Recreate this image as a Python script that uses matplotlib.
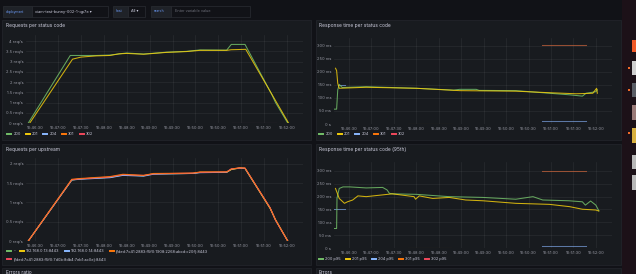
import numpy as np
import matplotlib
matplotlib.use('Agg')
import matplotlib.pyplot as plt
from matplotlib.patches import Rectangle
from matplotlib.lines import Line2D

W, H = 636, 274
nan = np.nan

# x values are seconds after 10:46:00
time_ticks = [30, 60, 90, 120, 150, 180, 210, 240, 270, 300, 330, 360]
time_labels = ['10:46:30', '10:47:00', '10:47:30', '10:48:00', '10:48:30', '10:49:00',
               '10:49:30', '10:50:00', '10:50:30', '10:51:00', '10:51:30', '10:52:00']

status_labels = ['200', '201', '204', '301', '302']
p95_labels = ['200 p95', '201 p95', '204 p95', '301 p95', '302 p95']
upstream_labels = ['-', '192.168.0.13:8443', '192.168.0.14:8443',
                   '[fded:7c41:2883:f5f0:1908:2268:abcd:c20f]:8443',
                   '[fded:7c41:2883:f5f0:7d0b:8db4:7eb1:ac0e]:8443']

# Requests per status code (req/s)
rps_t_200 = [21, 76, 86, 110, 128, 145, 150, 172, 202, 228, 246, 281, 287, 305, 340, 345, 361]
rps_200 = [0, 3.30, 3.30, 3.30, 3.32, 3.40, 3.42, 3.37, 3.46, 3.50, 3.57, 3.56, 3.84, 3.84, 1.40, 1.00, 0]
rps_t_201 = [23, 79, 90, 110, 128, 140, 150, 172, 202, 228, 246, 281, 287, 306, 362]
rps_201 = [0, 3.12, 3.22, 3.28, 3.30, 3.38, 3.40, 3.36, 3.45, 3.49, 3.55, 3.55, 3.58, 3.60, 0]
rps_t_204 = [19, 32, nan, 288, 345]
rps_204 = [0, 0, nan, 0, 0]
rps_t_301 = [111, 167]
rps_301 = [0, 0]
rps_t_302 = [288, 345]
rps_302 = [0, 0]

# Response time per status code (ms)
rt_t_200 = [10, 13.5, 15, 17, 21, 53, 120, 170, 178, 200, 204, 253, 289, 325, 342, 347, 356, 360, 362]
rt_200 = [57, 57, 131, 152, 140, 143, 137, 130, 133, 133, 129, 128, 120, 112, 107, 118, 122, 124, 131]
rt_t_201 = [12, 13.5, 15, 17, 53, 120, 178, 253, 298, 334, 356, 361, 362]
rt_201 = [214, 205, 156, 137, 141, 137, 128, 126, 120, 116, 118, 137, 118]
rt_t_204 = [15, 25, nan, 288, 347]
rt_204 = [150, 150, nan, 11, 11]
rt_t_301 = [109, 167]
rt_301 = [0, 0]
rt_t_302 = [288, 347]
rt_302 = [302, 302]

# Requests per upstream (req/s)
up_t = [21, 78, 89, 128, 145, 172, 185, 237, 246, 281, 287, 298, 305, 338, 345, 361]
up_dash_t = [111, 167]
up_dash = [0, 0]
up_013 = [0, 1.58, 1.61, 1.65, 1.71, 1.69, 1.74, 1.75, 1.78, 1.78, 1.85, 1.89, 1.88, 0.84, 0.55, 0]
up_014 = [0, 1.58, 1.60, 1.64, 1.70, 1.68, 1.73, 1.75, 1.77, 1.78, 1.86, 1.89, 1.88, 0.85, 0.54, 0]
up_c20f = [0, 1.60, 1.62, 1.67, 1.73, 1.70, 1.75, 1.76, 1.79, 1.79, 1.86, 1.90, 1.89, 0.85, 0.55, 0]
up_ac0e = [0, 1.59, 1.61, 1.66, 1.72, 1.70, 1.74, 1.76, 1.78, 1.79, 1.87, 1.89, 1.89, 0.86, 0.54, 0]

# Response time per status code, 95th (ms)
p95_t_200 = [10, 13.5, 14, 17, 22, 31, 53, 75, 81, 84, 88, 120, 164, 209, 253, 276, 289, 324, 342, 346, 353, 360, 364]
p95_200 = [76, 76, 194, 232, 238, 238, 234, 236, 226, 213, 211, 209, 200, 197, 190, 200, 187, 184, 180, 167, 183, 167, 145]
p95_t_201 = [12, 17, 24, 28, 35, 42, 53, 88, 117, 119, 124, 142, 164, 186, 209, 253, 298, 325, 342, 360, 364]
p95_201 = [232, 193, 174, 180, 187, 203, 200, 211, 200, 190, 203, 193, 197, 187, 184, 174, 170, 161, 151, 148, 144]
p95_t_204 = [10, 25, nan, 288, 347]
p95_204 = [152, 152, nan, 8, 8]
p95_t_301 = [109, 167]
p95_301 = [0, 0]
p95_t_302 = [288, 347]
p95_302 = [300, 300]

colors = ['#73BF69', '#F2CC0C', '#8AB8FF', '#FF780A', '#F2495C']

BG = '#111217'
PANEL = '#181b1f'
BORDER = '#24272d'
TEXT = '#ccccdc'
TICK = '#9a9ba6'

plt.rcParams['font.family'] = ['Inter', 'DejaVu Sans']

fig = plt.figure(figsize=(W / 100, H / 100), dpi=100, facecolor=BG)


def fx(x):
    return x / W


def fy(y):
    return 1 - y / H


def box(x0, y0, x1, y1, fc, ec=BORDER, lw=0.5, z=-2):
    fig.add_artist(Rectangle((fx(x0), fy(y1)), (x1 - x0) / W, (y1 - y0) / H,
                             transform=fig.transFigure, facecolor=fc, edgecolor=ec,
                             lw=lw, zorder=z))


def make_axes(left, top, right, bottom, xlim, ylim, yticks, ylabels):
    ax = fig.add_axes([fx(left), fy(bottom), (right - left) / W, (bottom - top) / H])
    ax.set_facecolor('none')
    for s in ax.spines.values():
        s.set_visible(False)
    ax.set_xlim(*xlim)
    ax.set_ylim(*ylim)
    ax.set_xticks(time_ticks)
    ax.set_xticklabels(time_labels)
    ax.set_yticks(yticks)
    ax.set_yticklabels(ylabels)
    ax.tick_params(length=0, labelsize=2.9, colors=TICK, pad=2.0)
    ax.grid(True, color='#ffffff', alpha=0.07, lw=0.5)
    return ax


def legend(ax, labels, cols, x, y, ncol):
    handles = [Line2D([], [], color=c, lw=1.4) for c in cols]
    leg = ax.legend(handles, labels, loc='center left', bbox_to_anchor=(fx(x), fy(y)),
                    bbox_transform=fig.transFigure, ncol=ncol, frameon=False,
                    fontsize=2.8, handlelength=1.0, handletextpad=0.6, columnspacing=1.3,
                    borderpad=0, borderaxespad=0, labelcolor=TEXT)
    return leg


# page chrome
box(622, 0, 636, H, '#1c1118', ec='none')
box(2, 20, 311, 140, PANEL)
box(316, 20, 621, 140, PANEL)
box(2, 144, 311, 265, PANEL)
box(316, 144, 621, 265, PANEL)
box(2, 268, 311, 300, PANEL)
box(316, 268, 621, 300, PANEL)

# variable bar
box(3, 6, 32, 17, '#1f2228', ec='#2a2d33')
fig.text(fx(6), fy(11.5), 'deployment', fontsize=2.4, color='#6e9fff', va='center')
box(32, 6, 108, 17, BG, ec='#2a2d33')
fig.text(fx(35), fy(11.5), 'ciam-test-bunny-002-1-qp7e \u25be', fontsize=2.8, color=TEXT, va='center')
box(113, 6, 128, 17, '#1f2228', ec='#2a2d33')
fig.text(fx(116), fy(11.5), 'host', fontsize=2.4, color='#6e9fff', va='center')
box(128, 6, 145, 17, BG, ec='#2a2d33')
fig.text(fx(131), fy(11.5), 'All \u25be', fontsize=2.8, color=TEXT, va='center')
box(151, 6, 171, 17, '#1f2228', ec='#2a2d33')
fig.text(fx(154), fy(11.5), 'search', fontsize=2.4, color='#6e9fff', va='center')
box(171, 6, 250, 17, BG, ec='#2a2d33')
fig.text(fx(175), fy(11.5), 'Enter variable value', fontsize=2.8, color='#6c6e78', va='center')

# side icons
for (y0, y1, c) in [(40, 52, '#f05a28'), (61, 75, '#cfcfcf'), (83, 97, '#5a5e66'),
                    (105, 120, '#9a7a78'), (128, 143, '#d8b040'), (155, 169, '#b8b8b8'),
                    (175, 190, '#b8b8b8')]:
    box(632, y0, 636, y1, c, ec='none', z=-1)
for y in [68, 90, 133]:
    box(628, y - 1, 630, y + 1, '#f06a28', ec='none', z=-1)

# panel titles
fig.text(fx(6), fy(25), 'Requests per status code', fontsize=3.5, color=TEXT, va='center')
fig.text(fx(319), fy(25), 'Response time per status code', fontsize=3.5, color=TEXT, va='center')
fig.text(fx(6), fy(150), 'Requests per upstream', fontsize=3.5, color=TEXT, va='center')
fig.text(fx(319), fy(150), 'Response time per status code (95th)', fontsize=3.5, color=TEXT, va='center')
fig.text(fx(6), fy(273), 'Errors ratio', fontsize=3.5, color=TEXT, va='center')
fig.text(fx(319), fy(273), 'Errors', fontsize=3.5, color=TEXT, va='center')

lw = 0.75
al = 0.85
rps_ticks = [0, 0.5, 1, 1.5, 2, 2.5, 3, 3.5, 4]
rps_lbls = ['0 req/s', '0.5 req/s', '1 req/s', '1.5 req/s', '2 req/s',
            '2.5 req/s', '3 req/s', '3.5 req/s', '4 req/s']
ms_ticks = [0, 50, 100, 150, 200, 250, 300]
ms_lbls = ['0 s', '50 ms', '100 ms', '150 ms', '200 ms', '250 ms', '300 ms']

# top left
ax1 = make_axes(26, 35, 303, 123, (18, 381), (0, 4.3), rps_ticks, rps_lbls)
ax1.plot(rps_t_301, rps_301, color=colors[3], lw=lw, alpha=0.6)
ax1.plot(rps_t_302, rps_302, color=colors[4], lw=lw, alpha=0.5)
ax1.plot(rps_t_204, rps_204, color=colors[2], lw=lw, alpha=0.6)
ax1.plot(rps_t_200, rps_200, color=colors[0], lw=lw, alpha=al)
ax1.plot(rps_t_201, rps_201, color=colors[1], lw=lw, alpha=al)
legend(ax1, status_labels, colors, 7, 134, 5)

# top right
ax2 = make_axes(334, 38, 612, 124, (10, 381.6), (0, 330), ms_ticks, ms_lbls)
ax2.plot(rt_t_301, rt_301, color=colors[3], lw=lw, alpha=0.6)
ax2.plot(rt_t_302, rt_302, color='#c0603a', lw=lw, alpha=0.75)
ax2.plot(rt_t_204, rt_204, color=colors[2], lw=lw, alpha=0.6)
ax2.plot(rt_t_200, rt_200, color=colors[0], lw=lw, alpha=al)
ax2.plot(rt_t_201, rt_201, color=colors[1], lw=lw, alpha=al)
legend(ax2, status_labels, colors, 319, 134, 5)

# bottom left
ax3 = make_axes(26, 158, 303, 241, (18, 381), (0, 2.15), rps_ticks[:5], rps_lbls[:5])
ax3.plot(up_dash_t, up_dash, color=colors[0], lw=lw, alpha=0.6)
ax3.plot(up_t, up_013, color=colors[1], lw=lw)
ax3.plot(up_t, up_014, color=colors[2], lw=lw)
ax3.plot(up_t, up_ac0e, color=colors[4], lw=lw)
ax3.plot(up_t, up_c20f, color=colors[3], lw=lw, alpha=0.8)
leg1 = legend(ax3, upstream_labels[:4], colors[:4], 7, 251, 4)
ax3.add_artist(leg1)
legend(ax3, upstream_labels[4:], colors[4:], 7, 259, 1)

# bottom right
ax4 = make_axes(334, 162, 612, 248, (10, 381.6), (0, 335), ms_ticks, ms_lbls)
ax4.plot(p95_t_301, p95_301, color=colors[3], lw=lw, alpha=0.6)
ax4.plot(p95_t_302, p95_302, color='#c0603a', lw=lw, alpha=0.75)
ax4.plot(p95_t_204, p95_204, color=colors[2], lw=lw, alpha=0.6)
ax4.plot(p95_t_200, p95_200, color=colors[0], lw=lw, alpha=al)
ax4.plot(p95_t_201, p95_201, color=colors[1], lw=lw, alpha=al)
legend(ax4, p95_labels, colors, 319, 259, 5)

fig.savefig('out.png', dpi=100, facecolor=BG)
